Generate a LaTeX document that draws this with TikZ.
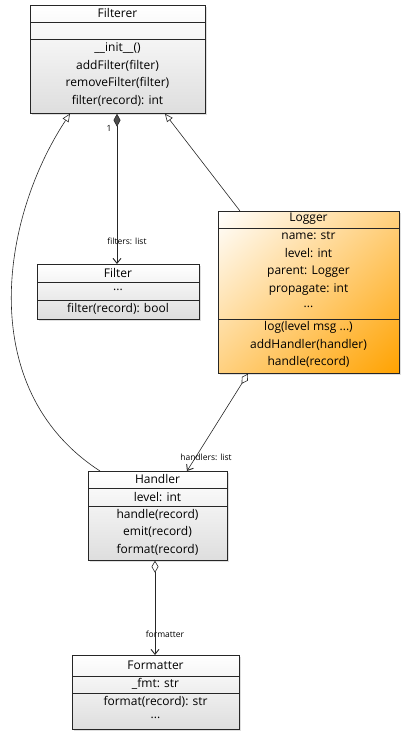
\documentclass[tikz,border=0pt]{standalone}
\usepackage{fontspec}
\setmainfont{Open Sans}
\usetikzlibrary{arrows.meta,shadows}
\pgfdeclarefunctionalshading{loggershade}{\pgfpoint{-50bp}{-50bp}}{\pgfpoint{50bp}{50bp}}{}{
  exch sub neg 50 add 100 div
  dup 0 lt {pop 0} if dup 1 gt {pop 1} if
  1 exch dup 0.365 mul neg 1 add exch neg 1 add
}
\begin{document}
\begin{tikzpicture}[x=1pt,y=-1pt,
  cls/.style={draw=black!85, line width=0.7pt, top color=white, bottom color=black!13,
    drop shadow={opacity=0.25, shadow xshift=2pt, shadow yshift=-2pt}, inner sep=0, anchor=north west},
  txt/.style={font=\fontsize{12}{13}\selectfont, inner sep=0},
  lbl/.style={font=\fontsize{8.5}{9}\selectfont, inner sep=0},
  sep/.style={draw=black!85, line width=0.6pt},
  con/.style={draw=black!85, line width=0.6pt},
  inh/.style={con, -{Triangle[open, length=8pt, width=7pt, fill=white]}},
  comp/.style={con, {Diamond[length=13pt, width=7pt, fill=black!70]}-{Straight Barb[length=5pt, width=8pt, line width=0.9pt]}},
  aggr/.style={con, {Diamond[open, length=12pt, width=7pt, fill=white]}-{Straight Barb[length=5pt, width=8pt, line width=0.9pt]}}
]
\useasboundingbox (0,0) rectangle (403,734);

% Filterer
\node[cls, minimum width=175pt, minimum height=108pt] (filterer) at (30,5) {};
\draw[sep] (30,22) -- (205,22);
\draw[sep] (30,39) -- (205,39);
\node[txt] (f1) at (117.5,13) {Filterer};
\node[txt] (f2) at (117.5,48) {\_\_init\_\_()};
\node[txt] (f3) at (117.5,65.5) {addFilter(filter)};
\node[txt] (f4) at (117.5,83) {removeFilter(filter)};
\node[txt] (f5) at (117.5,100.5) {filter(record): int};

% Filter
\node[cls, minimum width=162pt, minimum height=55pt] (filter) at (37,264) {};
\draw[sep] (37,282) -- (199,282);
\draw[sep] (37,300) -- (199,300);
\node[txt] (g1) at (118,272.5) {Filter};
\node[txt] (g2) at (118,290) {...};
\node[txt] (g3) at (118,309) {filter(record): bool};

% Logger
\node[cls, shading=loggershade, shading angle=0, minimum width=181pt, minimum height=162pt] (logger) at (218,211) {};
\draw[sep] (218,228) -- (399,228);
\draw[sep] (218,319) -- (399,319);
\node[txt] (l1) at (308.5,219) {Logger};
\node[txt] (l2) at (308.5,236) {name: str};
\node[txt] (l3) at (308.5,253.5) {level: int};
\node[txt] (l4) at (308.5,271.5) {parent: Logger};
\node[txt] (l5) at (308.5,289.5) {propagate: int};
\node[txt] (l6) at (308.5,307) {...};
\node[txt] (l7) at (308.5,327) {log(level msg ...)};
\node[txt] (l8) at (308.5,344.5) {addHandler(handler)};
\node[txt] (l9) at (308.5,362) {handle(record)};

% Handler
\node[cls, minimum width=139pt, minimum height=89pt] (handler) at (88,471) {};
\draw[sep] (88,488) -- (227,488);
\draw[sep] (88,506) -- (227,506);
\node[txt] (h1) at (157.5,479) {Handler};
\node[txt] (h2) at (157.5,497) {level: int};
\node[txt] (h3) at (157.5,514.5) {handle(record)};
\node[txt] (h4) at (157.5,532) {emit(record)};
\node[txt] (h5) at (157.5,549.5) {format(record)};

% Formatter
\node[cls, minimum width=167pt, minimum height=74pt] (formatter) at (72,655) {};
\draw[sep] (72,676) -- (239,676);
\draw[sep] (72,693) -- (239,693);
\node[txt] (m1) at (155.5,665) {Formatter};
\node[txt] (m2) at (155.5,684) {\_fmt: str};
\node[txt] (m3) at (155.5,701.5) {format(record): str};
\node[txt] (m4) at (155.5,718) {...};

% connector end points
\coordinate (fcomp) at (filterer.south -| 117,0);
\coordinate (ftop) at (filter.north -| 117,0);
\coordinate (finhL) at (filterer.south -| 70,0);
\coordinate (finhR) at (filterer.south -| 165,0);
\coordinate (ltop) at (logger.north -| 240,0);
\coordinate (lbot) at (logger.south -| 248,0);
\coordinate (htopL) at (handler.north -| 100,0);
\coordinate (htopR) at (handler.north -| 187,0);
\coordinate (hbot) at (handler.south -| 155,0);
\coordinate (mtop) at (formatter.north -| 155,0);

\draw[comp] (fcomp) -- (ftop);
\draw[inh] (ltop) -- (finhR);
\draw[inh] (htopL) .. controls (-25,390) and (0,220) .. (finhL);
\draw[aggr] (lbot) -- (htopR);
\draw[aggr] (hbot) -- (mtop);

\node[lbl] (one) at (109,128) {1};
\node[lbl] (lfil) at (127,241.5) {filters: list};
\node[lbl] (lhan) at (206,457) {handlers: list};
\node[lbl] (lfmt) at (165,634) {formatter};
\end{tikzpicture}
\end{document}
